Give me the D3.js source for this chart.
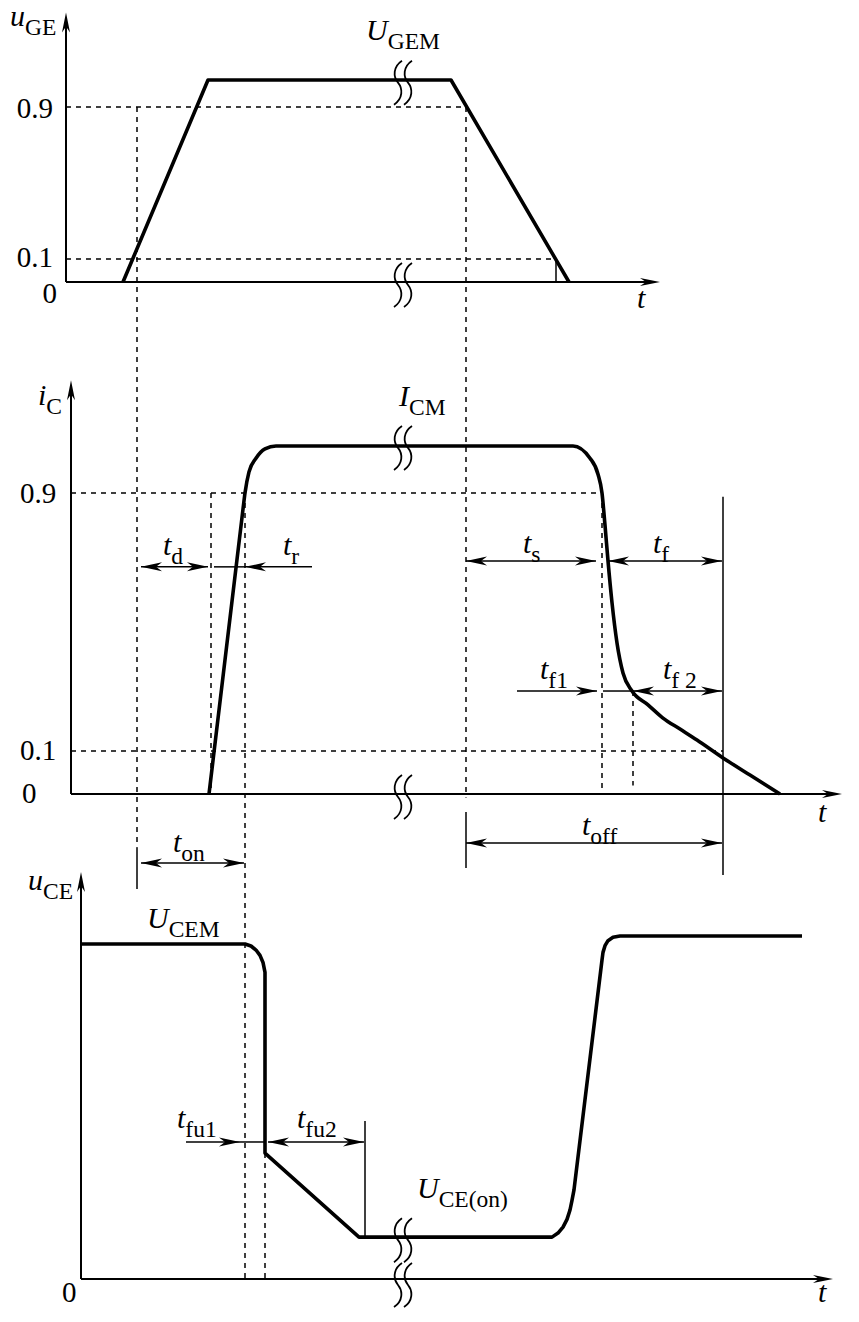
<!DOCTYPE html>
<html><head><meta charset="utf-8">
<script src="https://cdn.jsdelivr.net/npm/d3@7"></script>
<style>body{margin:0;background:#fff}svg{display:block}</style>
</head><body>
<svg id="c" width="859" height="1322"></svg>
<script>
// ---------------- data (time t, normalised level v) ----------------
const uGE = [[83,0],[168,1],[411,1],[529,0]];
const iC = [[169,0],[203,0.85],[205,0.9],[209,0.945],[216,0.974],[225,0.994],[236,1],
            [533,1],[550,0.974],[558,0.94],[562,0.9],[565,0.80],[568,0.69],[572,0.56],
            [577,0.435],[583,0.342],[592,0.286],[608,0.243],[623,0.202],[640,0.168],
            [657,0.134],[683,0.084],[710,0.044],[740,0]];
const uCE = [[41,1],[205,1],[211,0.994],[216,0.982],[220,0.966],[223,0.945],[225,0.915],[225,0.376],[319,0.125],
             [512,0.125],[518,0.137],[523,0.155],[527,0.178],[530,0.206],[532,0.235],[534,0.266],[562,0.952],[563,0.975],[565,0.995],
             [568,1.010],[573,1.02],[580,1.024],[762,1.024]];
const levelValues = [0, 0.1, 0.9];
const levelLabels = ["0", "0.1", "0.9"];
const panels = ["top", "mid", "bot"];
const axisStartT = [26, 31, 41];
const axisEndT = [620, 802, 793];
const axisTopV = [1.25, 1.14, 1.215];
const breakT = [358, 368];

// ---------------- scales ----------------
const x = d3.scaleLinear().domain([0, 800]).range([40, 840]);
const Y = {
  top: d3.scaleLinear().domain([0, 0.1, 0.9, 1]).range([282, 259, 107, 80]),
  mid: d3.scaleLinear().domain([0, 0.1, 0.9, 1]).range([794, 751, 493, 446]),
  bot: d3.scaleLinear().domain([0, 1]).range([1279, 944])
};

const svg = d3.select("#c");
const FONT = '"Liberation Serif","Times New Roman",serif';

// ---------------- helpers ----------------
function seg(t0, p0, v0, t1, p1, v1, dashed, w) {
  svg.append("line")
    .attr("x1", x(t0)).attr("y1", Y[p0](v0))
    .attr("x2", x(t1)).attr("y2", Y[p1](v1))
    .attr("stroke", "#000").attr("stroke-width", w || 1.5)
    .attr("stroke-dasharray", dashed ? "5,5" : null);
}
function head(px, py, angle, L, w) {
  L = L || 21; w = w || 4.5;
  svg.append("path")
    .attr("d", `M0,0 L${-L},${-w} L${-L + 6},0 L${-L},${w} Z`)
    .attr("transform", `translate(${px},${py}) rotate(${angle})`)
    .attr("fill", "#000");
}
function dim(t0, t1, panel, v, heads) {
  const py = Y[panel](v);
  svg.append("line").attr("x1", x(t0)).attr("x2", x(t1)).attr("y1", py).attr("y2", py)
    .attr("stroke", "#000").attr("stroke-width", 1.5);
  const dir = t1 > t0 ? 0 : 180;
  if (heads === "both" || heads === "end") head(x(t1), py, dir);
  if (heads === "both") head(x(t0), py, dir + 180);
}
function label(main, sub, t, panel, v) {
  const tx = svg.append("text").attr("x", x(t)).attr("y", Y[panel](v))
    .attr("font-family", FONT).attr("font-size", 30).attr("fill", "#000");
  tx.append("tspan").attr("font-style", "italic").text(main);
  if (sub) tx.append("tspan").attr("font-size", 23.5).attr("dy", 9).text(sub);
}
function brk(t, panel, v) {
  const cx = x(t), cy = Y[panel](v);
  svg.append("path")
    .attr("d", `M${cx + 4},${cy - 22} C${cx - 5},${cy - 16} ${cx - 5},${cy - 6} ${cx},${cy} C${cx + 5},${cy + 6} ${cx + 5},${cy + 16} ${cx - 4},${cy + 22}`)
    .attr("fill", "none").attr("stroke", "#000").attr("stroke-width", 1.8);
}

// ---------------- dashed guides ----------------
seg(26, "top", 0.9, 426, "top", 0.9, true);
seg(26, "top", 0.1, 516, "top", 0.1, true);
seg(31, "mid", 0.9, 562, "mid", 0.9, true);
seg(31, "mid", 0.1, 683, "mid", 0.1, true);
seg(97, "top", 0.9, 97, "bot", 1.287, true);
seg(426, "top", 0.9, 426, "mid", -0.008, true);
seg(171, "mid", 0.9, 171, "mid", 0, true);
seg(205, "mid", 0.9, 205, "bot", 0, true);
seg(562, "mid", 0.9, 562, "mid", 0, true);
seg(593, "mid", 0.286, 593, "mid", 0.02, true);
seg(225, "bot", 0.376, 225, "bot", 0, true);

// ---------------- thin solid guides ----------------
seg(516, "top", 0.1, 516, "top", 0);
seg(683, "mid", 0.888, 683, "bot", 1.206);
seg(426, "mid", -0.042, 426, "bot", 1.227);
seg(97, "bot", 1.287, 97, "bot", 1.164);
seg(325, "bot", 0.472, 325, "bot", 0.125);

// ---------------- axes ----------------
panels.forEach((p, i) => {
  const y = Y[p];
  svg.append("line").attr("x1", x(axisStartT[i])).attr("x2", x(axisStartT[i]))
    .attr("y1", y(0)).attr("y2", y(axisTopV[i]) + 8)
    .attr("stroke", "#000").attr("stroke-width", 2);
  head(x(axisStartT[i]), y(axisTopV[i]), -90, 20, 4);
  svg.append("line").attr("x1", x(axisStartT[i])).attr("x2", x(axisEndT[i]) - 8)
    .attr("y1", y(0)).attr("y2", y(0))
    .attr("stroke", "#000").attr("stroke-width", 1.8);
  head(x(axisEndT[i]), y(0), 0, 20, 4);
});

// ---------------- waveforms ----------------
[[uGE, "top", d3.curveLinear], [iC, "mid", d3.curveMonotoneX], [uCE, "bot", d3.curveLinear]].forEach(([data, p, c]) => {
  const line = d3.line().x(d => x(d[0])).y(d => Y[p](d[1])).curve(c);
  svg.append("path").attr("d", line(data)).attr("fill", "none")
    .attr("stroke", "#000").attr("stroke-width", 3.6)
    .attr("stroke-linejoin", "round").attr("stroke-linecap", "butt");
});

// ---------------- break marks ----------------
breakT.forEach(t => {
  brk(t, "top", 0.99);
  brk(t, "top", -0.013);
  brk(t, "mid", 0.996);
  brk(t, "mid", -0.007);
  brk(t, "bot", 0.116);
  brk(t, "bot", -0.018);
});

// ---------------- dimension arrows ----------------
dim(101, 168, "mid", 0.671, "both");      // t_d
dim(174, 205, "mid", 0.671, "none");      // t_r (left part)
dim(272, 205, "mid", 0.671, "end");       // t_r
dim(426, 556, "mid", 0.689, "both");      // t_s
dim(568, 682, "mid", 0.689, "both");      // t_f
dim(477, 557, "mid", 0.286, "end");       // t_f1
dim(563, 593, "mid", 0.286, "none");
dim(593, 682, "mid", 0.286, "both");      // t_f2
dim(426, 682, "mid", -0.114, "both");     // t_off
dim(101, 204, "bot", 1.242, "both");      // t_on
dim(146, 200, "bot", 0.409, "end");       // t_fu1
dim(200, 225, "bot", 0.409, "none");
dim(228, 324, "bot", 0.409, "both");      // t_fu2

// ---------------- tick level labels ----------------
const tickPos = {
  top: {t: [17, 13, 13], v: [-0.091, 0.065, 0.842], anchor: "end"},
  mid: {t: [-18, -20, -20], v: [-0.021, 0.079, 0.869], anchor: "start"}
};
Object.keys(tickPos).forEach(p => {
  levelValues.forEach((val, i) => {
    svg.append("text").attr("x", x(tickPos[p].t[i])).attr("y", Y[p](tickPos[p].v[i]))
      .attr("text-anchor", tickPos[p].anchor)
      .attr("font-family", FONT).attr("font-size", 29).text(levelLabels[i]);
  });
});
svg.append("text").attr("x", x(22)).attr("y", Y.bot(-0.069))
  .attr("font-family", FONT).attr("font-size", 29).text(levelLabels[0]);

// ---------------- text labels ----------------
label("u", "GE", -30, "top", 1.2);
label("U", "GEM", 326, "top", 1.148);
label("t", null, 597, "top", -0.113);
label("i", "C", -2, "mid", 1.087);
label("I", "CM", 359, "mid", 1.085);
label("t", null, 778, "mid", -0.065);
label("t", "d", 123, "mid", 0.708);
label("t", "r", 243, "mid", 0.708);
label("t", "s", 483, "mid", 0.714);
label("t", "f", 613, "mid", 0.714);
label("t", "f1", 500, "mid", 0.323);
label("t", "f 2", 623, "mid", 0.323);
label("t", "off", 542, "mid", -0.095);
label("t", "on", 133, "bot", 1.275);
label("u", "CE", -12, "bot", 1.161);
label("U", "CEM", 107, "bot", 1.048);
label("t", "fu1", 137, "bot", 0.451);
label("t", "fu2", 257, "bot", 0.451);
label("U", "CE(on)", 377, "bot", 0.242);
label("t", null, 778, "bot", -0.069);
</script>
</body></html>
